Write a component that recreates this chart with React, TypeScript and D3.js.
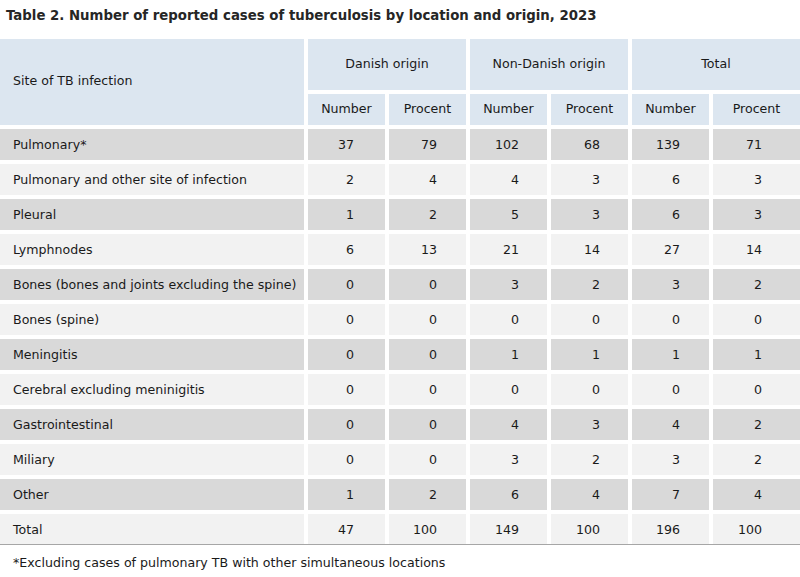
import React from "react";
import * as d3 from "d3";

const title = "Table 2. Number of reported cases of tuberculosis by location and origin, 2023";
const footnote = "*Excluding cases of pulmonary TB with other simultaneous locations";
const firstHeader = "Site of TB infection";
const groups = ["Danish origin", "Non-Danish origin", "Total"];
const subHeaders = ["Number", "Procent"];
const sites = [
  "Pulmonary*",
  "Pulmonary and other site of infection",
  "Pleural",
  "Lymphnodes",
  "Bones (bones and joints excluding the spine)",
  "Bones (spine)",
  "Meningitis",
  "Cerebral excluding meninigitis",
  "Gastrointestinal",
  "Miliary",
  "Other",
  "Total",
];
const danishNumber = [37, 2, 1, 6, 0, 0, 0, 0, 0, 0, 1, 47];
const danishPercent = [79, 4, 2, 13, 0, 0, 0, 0, 0, 0, 2, 100];
const nonDanishNumber = [102, 4, 5, 21, 3, 0, 1, 0, 4, 3, 6, 149];
const nonDanishPercent = [68, 3, 3, 14, 2, 0, 1, 0, 3, 2, 4, 100];
const totalNumber = [139, 6, 6, 27, 3, 0, 1, 0, 4, 3, 7, 196];
const totalPercent = [71, 3, 3, 14, 2, 0, 1, 0, 2, 2, 4, 100];

const W = 800;
const H = 577;
const FONT = "'DejaVu Sans', sans-serif";
const FS = 12.6;
const HEADER_BG = "#dce6f0";
const DARK = "#d9d9d9";
const LIGHT = "#f2f2f2";
const TEXT = "#1a1a1a";

export default function App() {
  const columns = [danishNumber, danishPercent, nonDanishNumber, nonDanishPercent, totalNumber, totalPercent];
  const gap = 4;
  const firstColRight = 304;
  const colLefts = [308, 389, 470, 551, 632, 713];
  const colRights = [385, 466, 547, 628, 709, 800];
  const rightPad = [31, 29, 28, 28, 29, 38];

  const y = d3
    .scaleBand<string>()
    .domain(sites)
    .range([129, 129 + 35 * sites.length - gap])
    .paddingInner(gap / 35)
    .paddingOuter(0);

  const head1Top = 39;
  const head1Bottom = 90;
  const head2Top = 94;
  const head2Bottom = 125;

  return (
    <svg
      width={W}
      height={H}
      style={{ position: "absolute", left: 0, top: 0, background: "#fff" }}
      fontFamily={FONT}
    >
      <rect x={0} y={0} width={W} height={H} fill="#fff" />
      <text x={6} y={20} fontSize={13.3} fontWeight="bold" fill="#262626">
        {title}
      </text>

      {/* header */}
      <rect x={0} y={head1Top} width={firstColRight} height={head2Bottom - head1Top} fill={HEADER_BG} />
      <text x={13} y={(head1Top + head2Bottom) / 2 - 1} dy="0.35em" fontSize={FS} fill={TEXT}>
        {firstHeader}
      </text>
      {groups.map((g, gi) => {
        const x0 = colLefts[gi * 2];
        const x1 = colRights[gi * 2 + 1];
        return (
          <g key={g}>
            <rect x={x0} y={head1Top} width={x1 - x0} height={head1Bottom - head1Top} fill={HEADER_BG} />
            <text x={(x0 + x1) / 2} y={(head1Top + head1Bottom) / 2 - 1} dy="0.35em" textAnchor="middle" fontSize={FS} fill={TEXT}>
              {g}
            </text>
            {subHeaders.map((s, si) => {
              const ci = gi * 2 + si;
              return (
                <g key={s}>
                  <rect x={colLefts[ci]} y={head2Top} width={colRights[ci] - colLefts[ci]} height={head2Bottom - head2Top} fill={HEADER_BG} />
                  <text x={(colLefts[ci] + colRights[ci]) / 2} y={(head2Top + head2Bottom) / 2 - 1} dy="0.35em" textAnchor="middle" fontSize={FS} fill={TEXT}>
                    {s}
                  </text>
                </g>
              );
            })}
          </g>
        );
      })}

      {/* body */}
      {sites.map((site, ri) => {
        const top = y(site)!;
        const h = y.bandwidth();
        const fill = ri % 2 === 0 ? DARK : LIGHT;
        return (
          <g key={site}>
            <rect x={0} y={top} width={firstColRight} height={h} fill={fill} />
            <text x={13} y={top + h / 2} dy="0.35em" fontSize={FS} fill={TEXT}>
              {site}
            </text>
            {columns.map((col, ci) => (
              <g key={ci}>
                <rect x={colLefts[ci]} y={top} width={colRights[ci] - colLefts[ci]} height={h} fill={fill} />
                <text x={colRights[ci] - rightPad[ci]} y={top + h / 2} dy="0.35em" textAnchor="end" fontSize={FS} fill={TEXT}>
                  {col[ri]}
                </text>
              </g>
            ))}
          </g>
        );
      })}
      <line x1={0} x2={W} y1={544.5} y2={544.5} stroke="#a6a6a6" strokeWidth={1} />

      <text x={13} y={563} dy="0.35em" fontSize={FS} fill={TEXT}>
        {footnote}
      </text>
    </svg>
  );
}
